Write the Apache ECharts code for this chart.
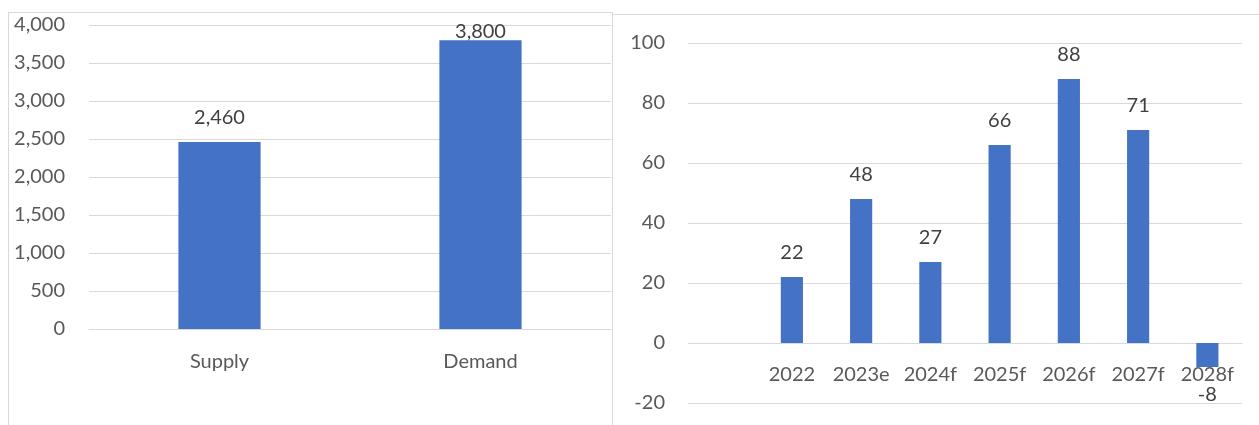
<!DOCTYPE html>
<html>
<head>
<meta charset="utf-8">
<script src="https://cdn.jsdelivr.net/npm/echarts@6/dist/echarts.min.js"></script>
<style>
  html, body { margin: 0; padding: 0; background: #fff; width: 1259px; height: 425px; overflow: hidden; }
  .panel { position: absolute; border: 1px solid #D9D9D9; box-sizing: border-box; background: #fff; }
  #left { left: 8px; top: 12px; width: 605px; height: 440px; }
  #right { left: 612px; top: 14px; width: 680px; height: 440px; }
</style>
</head>
<body>
<div id="left" class="panel"></div>
<div id="right" class="panel"></div>
<script>
// Supply vs demand (left panel)
const sdCategories = ['Supply', 'Demand'];
const sdValues = [2460, 3800];

// Annual balance by year (right panel); the first slot is left empty
const yearCategories = ['', '2022', '2023e', '2024f', '2025f', '2026f', '2027f', '2028f'];
const yearValues = [null, 22, 48, 27, 66, 88, 71, -8];

const BAR = '#4472C4';
const GRID_LINE = '#D9D9D9';
const AXIS_TEXT = '#595959';
const LABEL_TEXT = '#404040';
const FONT = 'Lato, "Open Sans", sans-serif';

const fmt = v => Number(v).toLocaleString('en-US');

const leftChart = echarts.init(document.getElementById('left'), null, { renderer: 'canvas' });
leftChart.setOption({
  animation: false,
  grid: { left: 80, top: 12, width: 522, height: 304 },
  xAxis: {
    type: 'category',
    data: sdCategories,
    axisLine: { show: true, lineStyle: { color: GRID_LINE, width: 1 } },
    axisTick: { show: false },
    axisLabel: { color: AXIS_TEXT, fontFamily: FONT, fontSize: 20, margin: 23 }
  },
  yAxis: {
    type: 'value',
    min: 0, max: 4000, interval: 500,
    axisLine: { show: false },
    axisTick: { show: false },
    splitLine: { lineStyle: { color: GRID_LINE, width: 1 } },
    axisLabel: { color: AXIS_TEXT, fontFamily: FONT, fontSize: 20, margin: 24, formatter: fmt }
  },
  series: [{
    type: 'bar',
    barWidth: '31.5%',
    itemStyle: { color: BAR },
    data: sdValues.map((v, i) => ({
      value: v,
      // the tallest label sits tight against the top of the plot area
      label: i === sdValues.indexOf(Math.max(...sdValues)) ? { distance: -1 } : {}
    })),
    label: {
      show: true, position: 'top', distance: 14,
      color: LABEL_TEXT, fontFamily: FONT, fontSize: 20,
      formatter: p => fmt(p.value)
    }
  }]
});

const rightChart = echarts.init(document.getElementById('right'), null, { renderer: 'canvas' });
rightChart.setOption({
  animation: false,
  grid: { left: 75, top: 28, width: 554, height: 360 },
  xAxis: {
    type: 'category',
    data: yearCategories,
    axisLine: { show: true, onZero: true, lineStyle: { color: GRID_LINE, width: 1 } },
    axisTick: { show: false },
    // year labels sit just under the zero line
    axisLabel: { color: AXIS_TEXT, fontFamily: FONT, fontSize: 20, margin: -38, interval: 0 }
  },
  yAxis: {
    type: 'value',
    min: -20, max: 100, interval: 20,
    axisLine: { show: false },
    axisTick: { show: false },
    splitLine: { lineStyle: { color: GRID_LINE, width: 1 } },
    axisLabel: { color: AXIS_TEXT, fontFamily: FONT, fontSize: 20, margin: 23 }
  },
  series: [{
    type: 'bar',
    barWidth: '32%',
    itemStyle: { color: BAR },
    data: yearValues.map(v => ({
      value: v,
      label: v !== null && v < 0 ? { position: 'bottom', distance: 18 } : {}
    })),
    label: {
      show: true, position: 'top', distance: 14,
      color: LABEL_TEXT, fontFamily: FONT, fontSize: 20
    }
  }]
});
</script>
</body>
</html>
